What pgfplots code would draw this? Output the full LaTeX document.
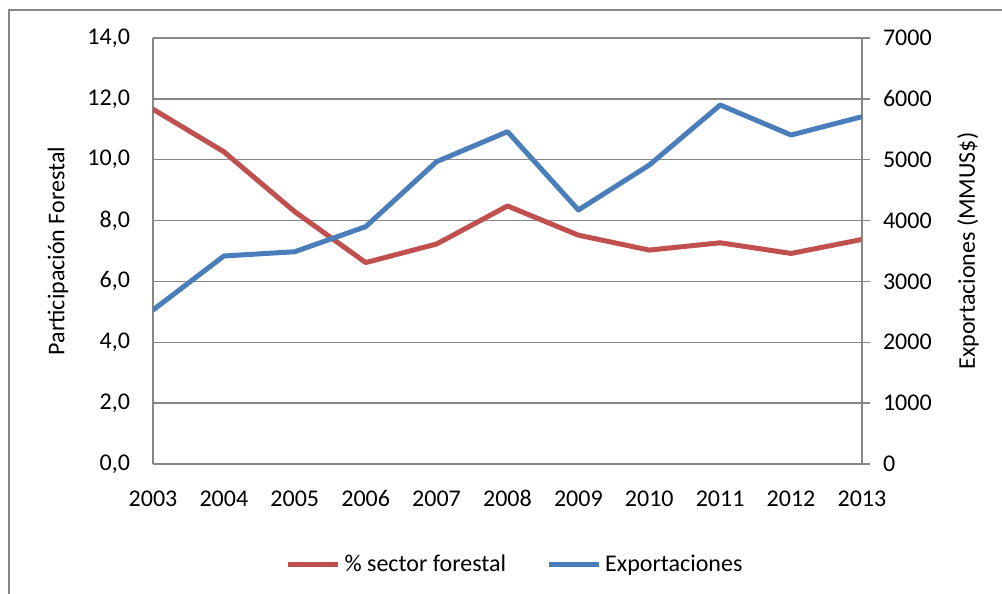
\documentclass[border=0pt]{standalone}
\usepackage{fontspec}
\setmainfont{Carlito}
\usepackage{pgfplots}
\pgfplotsset{compat=1.18}

\definecolor{serieRed}{RGB}{192,80,77}
\definecolor{serieBlue}{RGB}{74,126,187}
\definecolor{gridGray}{RGB}{134,134,134}

\pgfplotsset{
  common/.style={
    width=354.5pt, height=213pt, scale only axis,
    at={(0,0)}, anchor=south west,
    xmin=2003, xmax=2013,
    font=\fontsize{12}{14}\selectfont,
    /pgf/number format/assume math mode=true,
    axis line style={gridGray, line width=0.75pt},
    tick style={gridGray, line width=0.75pt},
    every axis plot/.append style={line width=2.5pt, line join=round, no markers},
  }
}

\begin{document}
\begin{tikzpicture}
\begin{axis}[common,
  axis x line*=bottom, axis y line*=left,
  ymin=0, ymax=14, ytick={0,2,...,14},
  xtick={2003,...,2013},
  xticklabel style={/pgf/number format/1000 sep={}, text height=1.6ex, text depth=0pt, yshift=-10pt},
  major tick length=0pt,
  yticklabel style={/pgf/number format/.cd, fixed, fixed zerofill, precision=1, use comma, /tikz/.cd, xshift=-8pt},
  ymajorgrids, grid style={gridGray, line width=0.75pt},
  ylabel={Participación Forestal},
  ylabel style={at={(axis description cs:-0.134,0.5)}, anchor=center},
]
\addplot[serieRed] coordinates {
  (2003,11.66) (2004,10.26) (2005,8.29) (2006,6.62) (2007,7.23) (2008,8.48)
  (2009,7.52) (2010,7.03) (2011,7.27) (2012,6.92) (2013,7.38)
};
\draw[gridGray, line width=0.75pt] (rel axis cs:0,1) -- (rel axis cs:1,1);
\end{axis}
\begin{axis}[common,
  axis x line=none, axis y line*=right,
  ymin=0, ymax=7000, ytick={0,1000,...,7000},
  tick align=outside, major tick length=4pt,
  yticklabel style={/pgf/number format/1000 sep={}, xshift=3pt},
  ylabel={Exportaciones (MMUS\$)},
  ylabel style={at={(axis description cs:1.1495,0.5)}, anchor=center, rotate=0},
  legend columns=2,
  legend style={at={(axis description cs:0.512,-0.237)}, anchor=center, draw=none,
    font=\fontsize{12}{14}\selectfont,
    /tikz/every even column/.append style={column sep=18pt}},
  legend image code/.code={\draw[#1, line width=2.5pt] (0pt,0pt) -- (25pt,0pt);},
]
\addlegendimage{serieRed}
\addlegendentry{\% sector forestal}
\addplot[serieBlue] coordinates {
  (2003,2530) (2004,3418) (2005,3488) (2006,3900) (2007,4968) (2008,5461)
  (2009,4174) (2010,4913) (2011,5899) (2012,5406) (2013,5707)
};
\addlegendentry{Exportaciones}
\end{axis}
\draw[gridGray, line width=1pt] (-72pt,-80pt) -- (-72pt,227pt) -- (440pt,227pt);
\pgfresetboundingbox
\path[use as bounding box] (-76.5pt,-65pt) rectangle (424.5pt,232pt);
\end{tikzpicture}
\end{document}
